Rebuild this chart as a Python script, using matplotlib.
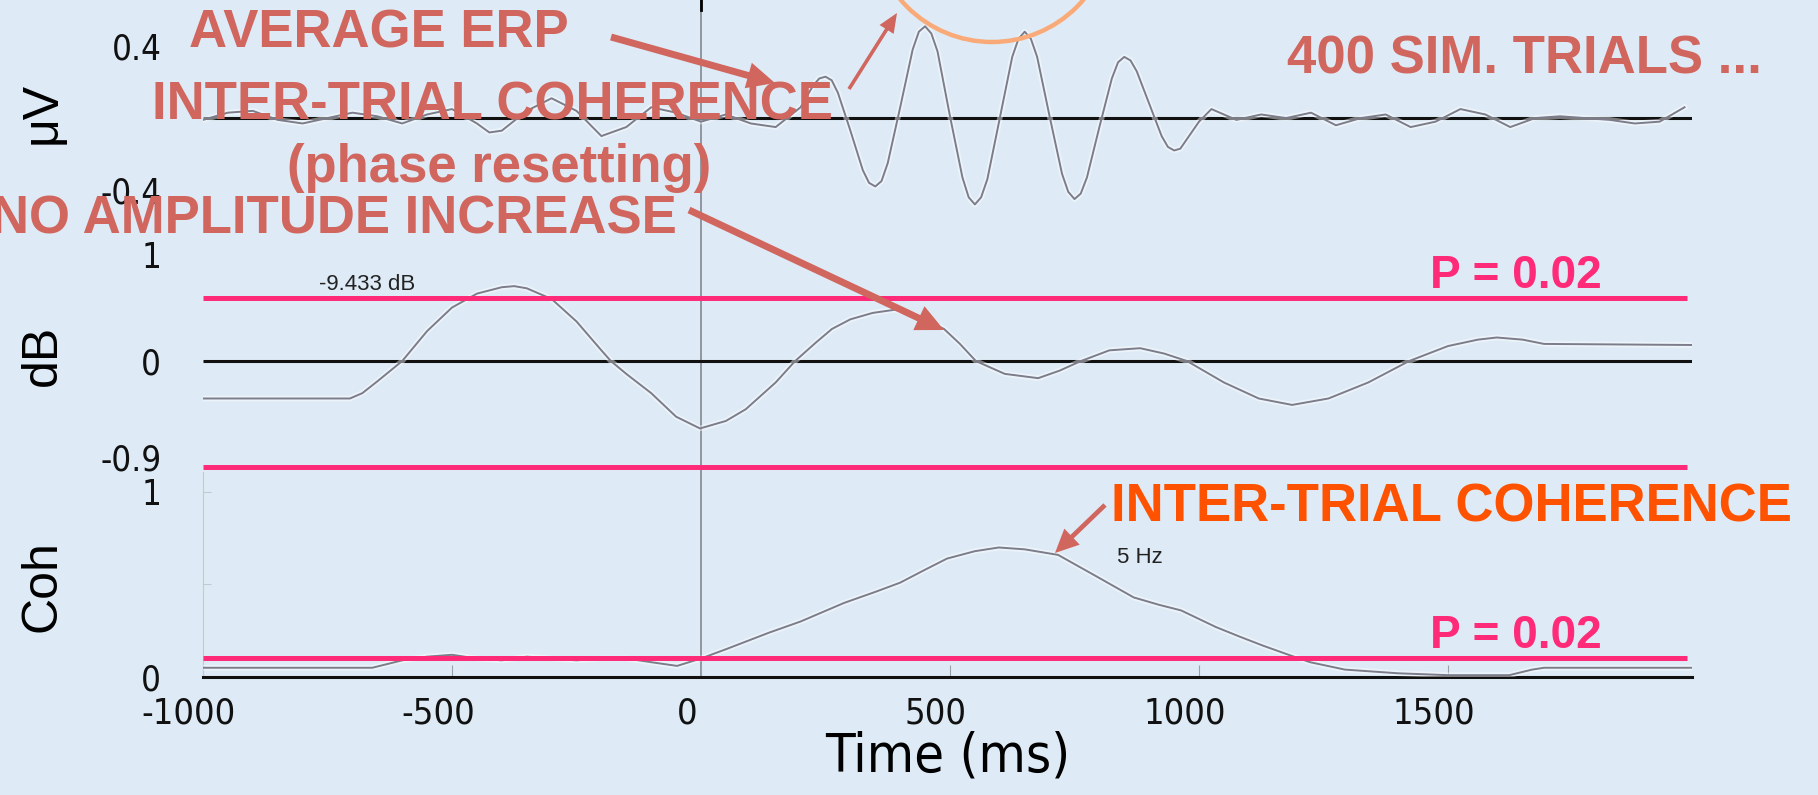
import matplotlib
matplotlib.use('Agg')
import matplotlib.pyplot as plt
import matplotlib.patches as mpatches
import matplotlib.patheffects as pe
from matplotlib.transforms import ScaledTranslation

# ---- data (time in ms) ----
erp_t = [-1000, -950, -900, -850, -800, -750, -700, -650, -600, -550, -500, -450, -425, -400,
         -350, -300, -250, -200, -150, -100, -50, 0, 50, 100, 150, 200, 225, 237.5, 250, 262.5,
         275, 300, 325, 337.5, 350, 362.5, 375, 400, 425, 437.5, 450, 462.5, 475, 500, 525,
         537.5, 550, 562.5, 575, 600, 625, 637.5, 650, 662.5, 675, 700, 725, 737.5, 750, 762.5,
         775, 800, 825, 837.5, 850, 862.5, 875, 900, 925, 937.5, 950, 962.5, 975, 1000, 1025,
         1075, 1125, 1175, 1225, 1275, 1325, 1375, 1425, 1475, 1525, 1575, 1625, 1675, 1725,
         1775, 1825, 1875, 1925, 1975]
erp_uv = [-0.01, 0.03, 0.04, -0.01, -0.03, 0.0, 0.03, 0.01, -0.03, 0.02, 0.05, -0.03, -0.08, -0.07,
          0.04, 0.11, 0.04, -0.10, -0.05, 0.06, 0.03, -0.02, 0.02, -0.03, -0.05, 0.06, 0.18, 0.22, 0.23, 0.21,
          0.14, -0.07, -0.29, -0.36, -0.38, -0.35, -0.25, 0.06, 0.38, 0.48, 0.51, 0.47, 0.37, 0.01, -0.33,
          -0.44, -0.48, -0.44, -0.34, 0.0, 0.34, 0.44, 0.48, 0.44, 0.34, 0.01, -0.31, -0.41, -0.45, -0.42,
          -0.33, -0.05, 0.22, 0.31, 0.34, 0.32, 0.26, 0.08, -0.10, -0.16, -0.18, -0.17, -0.12, -0.02, 0.05,
          -0.01, 0.02, 0.0, 0.03, -0.04, 0.0, 0.02, -0.05, -0.02, 0.05, 0.02, -0.05, 0.0, 0.01,
          0.0, -0.01, -0.03, -0.02, 0.06]

db_t = [-1000, -705, -680, -650, -600, -550, -500, -450, -400, -375, -350, -300, -250, -200, -181,
        -150, -100, -50, -2, 50, 90, 150, 189, 230, 263, 300, 345, 390, 430, 488, 520, 552, 610, 677,
        720, 763, 820, 882, 930, 976, 1050, 1120, 1187, 1260, 1340, 1422, 1500, 1560, 1598, 1650,
        1693, 1990]
db_val = [-0.35, -0.35, -0.30, -0.19, 0.0, 0.28, 0.50, 0.63, 0.69, 0.70, 0.68, 0.58, 0.37, 0.10, 0.0,
          -0.12, -0.30, -0.52, -0.63, -0.56, -0.45, -0.20, 0.0, 0.17, 0.30, 0.39, 0.45, 0.48, 0.43, 0.30,
          0.16, 0.0, -0.12, -0.16, -0.09, 0.0, 0.10, 0.12, 0.07, 0.0, -0.20, -0.35, -0.41, -0.35, -0.20,
          0.0, 0.14, 0.20, 0.22, 0.20, 0.16, 0.15]

coh_t = [-1000, -660, -600, -550, -500, -450, -400, -350, -300, -250, -200, -150, -100, -48, 0, 50,
         137, 200, 287, 350, 400, 450, 494, 550, 598, 650, 717, 790, 869, 920, 964, 1034, 1080,
         1128, 1180, 1223, 1293, 1400, 1500, 1623, 1669, 1693, 1990]
coh_val = [0.05, 0.05, 0.09, 0.11, 0.12, 0.10, 0.09, 0.11, 0.10, 0.09, 0.10, 0.10, 0.08, 0.06, 0.10, 0.15,
           0.24, 0.30, 0.40, 0.46, 0.51, 0.58, 0.64, 0.68, 0.70, 0.69, 0.66, 0.55, 0.43, 0.39, 0.36, 0.27,
           0.22, 0.17, 0.12, 0.08, 0.04, 0.02, 0.01, 0.01, 0.04, 0.05, 0.05]

db_p_hi, db_p_lo = 0.59, -0.99
coh_p = 0.10
x_ticks = [-1000, -500, 0, 500, 1000, 1500]

BG = '#DEEBF6'
PINK = '#FF2A78'
SALMON = '#D0665E'
ORANGE = '#FF5200'
GREY = '#7C7C8A'

plt.rcParams['font.family'] = ['DejaVu Sans']
plt.rcParams['font.stretch'] = 'condensed'

W, H = 1818, 795
fig = plt.figure(figsize=(W / 100, H / 100), dpi=100, facecolor=BG)


def px_box(top, bottom, left=203, right=1692):
    return [left / W, 1 - bottom / H, (right - left) / W, (bottom - top) / H]


ax_erp = fig.add_axes(px_box(0, 232))
ax_db = fig.add_axes(px_box(232, 472))
ax_coh = fig.add_axes(px_box(472, 677))

halo = [pe.withStroke(linewidth=4, foreground='white', alpha=0.45)]

for ax in (ax_erp, ax_db, ax_coh):
    ax.set_facecolor('none')
    ax.set_xlim(-1000, 1990)
    for s in ax.spines.values():
        s.set_visible(False)
    ax.axvline(0, color='#8A9098', lw=1.3, zorder=1)
    ax.tick_params(axis='y', length=0, pad=30, labelsize=25, labelcolor='#111111')

# ERP panel
ax_erp.set_ylim(-0.633, 0.656)
ax_erp.plot(erp_t, erp_uv, color=GREY, lw=1.4, path_effects=halo, zorder=3)
ax_erp.hlines(0, -1000, 1990, color='#111111', lw=2.2, zorder=2)
ax_erp.axvline(0, ymin=0.955, ymax=1, color='black', lw=2)
ax_erp.set_yticks([-0.4, 0.4], ['-0.4', '0.4'])
ax_erp.set_xticks([])
ax_erp.set_ylabel('\u03bcV', family='Liberation Sans', fontsize=36)

# dB panel
ax_db.set_ylim(-1.037, 1.206)
ax_db.plot(db_t, db_val, color=GREY, lw=1.4, path_effects=halo, zorder=3)
ax_db.hlines(0, -1000, 1990, color='#111111', lw=2.2, zorder=2)
ax_db.hlines([db_p_hi, db_p_lo], -1000, 1980, color=PINK, lw=3.6, zorder=4)
ax_db.set_yticks([-0.9, 0, 1], ['-0.9', '0', '1'])
ax_db.set_xticks([])
ax_db.set_ylabel('dB', family='Liberation Sans', fontsize=36)

# Coherence panel
ax_coh.set_ylim(0, 1.108)
ax_coh.plot(coh_t, coh_val, color=GREY, lw=1.4, path_effects=halo, zorder=3)
ax_coh.hlines(coh_p, -1000, 1980, color=PINK, lw=3.6, zorder=4)
ax_coh.spines['bottom'].set_visible(True)
ax_coh.spines['bottom'].set_linewidth(2.2)
ax_coh.spines['bottom'].set_color('#111111')
ax_coh.spines['left'].set_visible(True)
ax_coh.spines['left'].set_color('#C4C9D0')
ax_coh.set_yticks([0, 0.5, 1], ['0', '', '1'])
ax_coh.tick_params(axis='y', direction='in', length=6, color='#C4C9D0')
ax_coh.set_xticks(x_ticks, [str(v) for v in x_ticks])
ax_coh.tick_params(axis='x', direction='in', length=9, color='#9AA0A8', pad=14,
                   labelsize=26, labelcolor='#111111')
ax_coh.set_xlabel('Time (ms)', fontsize=39, labelpad=0)
ax_coh.set_ylabel('Coh', family='Liberation Sans', fontsize=36)

# tick labels in the screenshot sit a little left of their ticks
shift = ScaledTranslation(-14 / 100, 0, fig.dpi_scale_trans)
for lab in ax_coh.get_xticklabels():
    lab.set_transform(lab.get_transform() + shift)

for ax, yc in ((ax_erp, 0.513), (ax_db, 0.4875), (ax_coh, 0.444)):
    ax.yaxis.set_label_coords(-0.1075, yc)
    ax.yaxis.label.set_va('center')
    ax.yaxis.label.set_ha('center')

# ---- annotation overlay in pixel coordinates ----
ov = fig.add_axes([0, 0, 1, 1], zorder=10)
ov.set_xlim(0, W)
ov.set_ylim(H, 0)
ov.axis('off')
ov.patch.set_alpha(0)

bold = dict(family='Liberation Sans', weight='bold', stretch='normal', fontsize=38, va='baseline')
ov.text(189, 48, 'AVERAGE ERP', color=SALMON, ha='left', **bold)
ov.text(152, 120, 'INTER-TRIAL COHERENCE', color=SALMON, ha='left', **bold)
ov.text(287, 182, '(phase resetting)', color=SALMON, ha='left', **bold)
ov.text(677, 233, 'NO AMPLITUDE INCREASE', color=SALMON, ha='right', **bold)
ov.text(1287, 73, '400 SIM. TRIALS ...', color=SALMON, ha='left', **bold)
ov.text(1111, 522, 'INTER-TRIAL COHERENCE', color=ORANGE, ha='left', **bold)
pbold = dict(bold, fontsize=33)
ov.text(1430, 288, 'P = 0.02', color=PINK, ha='left', **pbold)
ov.text(1430, 648, 'P = 0.02', color=PINK, ha='left', **pbold)

ov.text(319, 290, '-9.433 dB', family='Liberation Sans', stretch='normal', fontsize=16,
        color='#222222', va='baseline')
ov.text(1117, 563, '5 Hz', family='Liberation Sans', stretch='normal', fontsize=16,
        color='#222222', va='baseline')

ov.add_patch(mpatches.Circle((992, -78), 120, fill=False, ec='#F9AA78', lw=3.2))


def arrow(tail, tip, tw, hw, hl, ms=20):
    ov.annotate('', xy=tip, xytext=tail,
                arrowprops=dict(arrowstyle='simple,head_length=%g,head_width=%g,tail_width=%g' % (hl, hw, tw),
                                color=SALMON, mutation_scale=ms, shrinkA=0, shrinkB=0, lw=0))


arrow((611, 37), (775, 83), 0.25, 0.95, 1.0)
arrow((689, 210), (944, 330), 0.25, 0.95, 1.0)
arrow((849, 89), (897, 13), 0.13, 0.6, 0.7)
arrow((1105, 505), (1055, 553), 0.17, 0.8, 0.85)

fig.savefig('out.png', dpi=100, facecolor=BG)
